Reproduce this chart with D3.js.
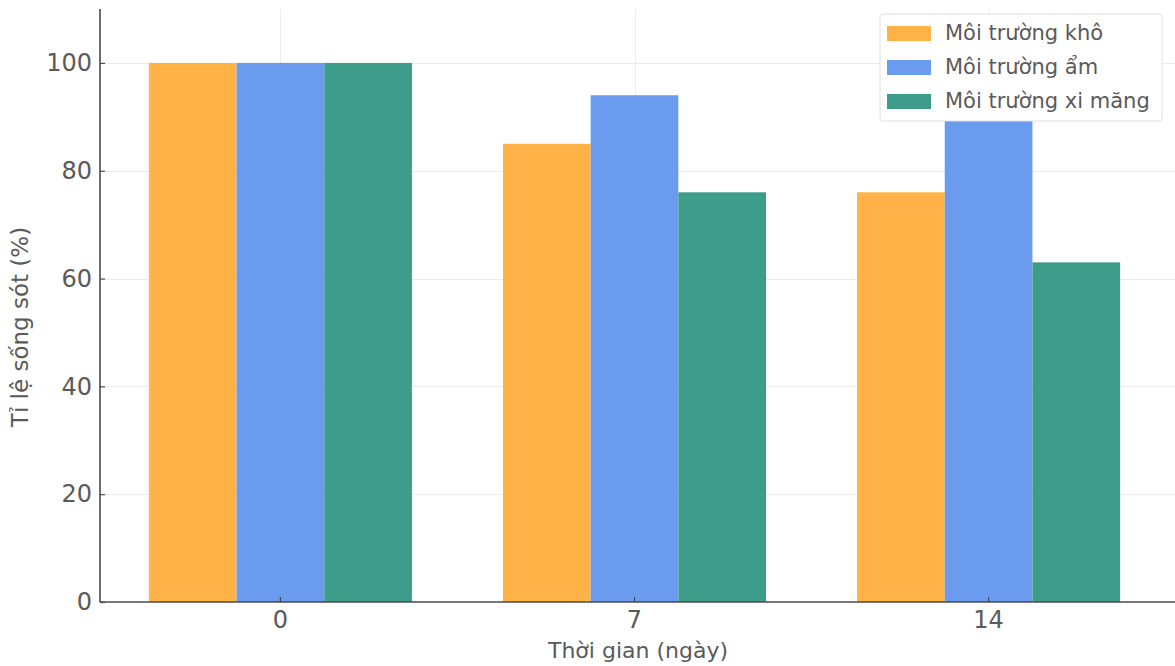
<!DOCTYPE html>
<html>
<head>
<meta charset="utf-8">
<script src="https://cdn.jsdelivr.net/npm/d3@7"></script>
<style>
  html, body { margin: 0; padding: 0; background: #ffffff; }
  svg { display: block; }
  text { font-family: "DejaVu Sans", sans-serif; }
</style>
</head>
<body>
<svg id="chart" width="1175" height="666"></svg>
<script>
// Survival rate (%) by day, for three storage environments
const days = ["0", "7", "14"];
const seriesNames = ["Môi trường khô", "Môi trường ẩm", "Môi trường xi măng"];
const dryValues = [100, 85, 76];
const humidValues = [100, 94, 90];
const cementValues = [100, 76, 63];
const seriesColors = ["#FFB245", "#6A9BEF", "#3E9C8B"];
const yTicks = [0, 20, 40, 60, 80, 100];

const seriesValues = [dryValues, humidValues, cementValues];

const svg = d3.select("#chart");
const width = 1175, height = 666;
const margin = { left: 100, top: 9, bottom: 64 };
const plotBottom = height - margin.bottom;

const x = d3.scaleBand()
  .domain(days)
  .range([margin.left, 1169])
  .paddingInner(0.257)
  .paddingOuter(0.138);

const xInner = d3.scaleBand()
  .domain(d3.range(seriesNames.length))
  .range([0, x.bandwidth()]);

const y = d3.scaleLinear()
  .domain([0, 110])
  .range([plotBottom, margin.top]);

// light grid
const grid = svg.append("g").attr("stroke", "#ececec").attr("stroke-width", 1);
grid.selectAll("line.h").data(yTicks.slice(1)).join("line")
  .attr("class", "h")
  .attr("x1", margin.left).attr("x2", width)
  .attr("y1", d => Math.round(y(d)) + 0.5).attr("y2", d => Math.round(y(d)) + 0.5);
grid.selectAll("line.v").data(days).join("line")
  .attr("class", "v")
  .attr("x1", d => Math.round(x(d) + x.bandwidth() / 2) + 0.5)
  .attr("x2", d => Math.round(x(d) + x.bandwidth() / 2) + 0.5)
  .attr("y1", margin.top).attr("y2", plotBottom);

// grouped bars
const groups = svg.append("g").selectAll("g").data(days).join("g")
  .attr("transform", d => `translate(${x(d)},0)`);
groups.selectAll("rect")
  .data((d, i) => seriesValues.map((vals, s) => ({ s, v: vals[i] })))
  .join("rect")
  .attr("x", d => xInner(d.s))
  .attr("width", xInner.bandwidth())
  .attr("y", d => y(d.v))
  .attr("height", d => y(0) - y(d.v))
  .attr("fill", d => seriesColors[d.s]);

// axes
const yAxis = d3.axisLeft(y).tickValues(yTicks).tickSizeInner(-5).tickSizeOuter(0).tickPadding(8);
const gy = svg.append("g").attr("transform", `translate(${margin.left},0)`).call(yAxis);
const xAxis = d3.axisBottom(x).tickSizeInner(-5).tickSizeOuter(0).tickPadding(9);
const gx = svg.append("g").attr("transform", `translate(0,${plotBottom})`).call(xAxis);

[gx, gy].forEach(g => {
  g.select(".domain").attr("stroke", "#4a4a4a").attr("stroke-width", 1.6);
  g.selectAll(".tick line").attr("stroke", "#4a4a4a").attr("stroke-width", 1.2);
  g.selectAll(".tick text")
    .attr("font-family", "DejaVu Sans, sans-serif")
    .attr("font-size", 24)
    .attr("fill", "#5a5a5a");
});
gy.select(".domain").attr("d", `M0,${margin.top}V${plotBottom}`);
gx.select(".domain").attr("d", `M${margin.left},0H${width}`);

// axis titles
svg.append("text")
  .attr("x", 638)
  .attr("y", 658)
  .attr("text-anchor", "middle")
  .attr("font-size", 22)
  .attr("fill", "#5a5a5a")
  .text("Thời gian (ngày)");

svg.append("text")
  .attr("transform", `translate(28,327) rotate(-90)`)
  .attr("text-anchor", "middle")
  .attr("font-size", 23)
  .attr("fill", "#5a5a5a")
  .text("Tỉ lệ sống sót (%)");

// legend
const legend = svg.append("g").attr("transform", "translate(880,14)");
legend.append("rect")
  .attr("width", 282).attr("height", 107)
  .attr("rx", 3)
  .attr("fill", "#ffffff")
  .attr("stroke", "#e0e0e0");
const item = legend.selectAll("g.item").data(seriesNames).join("g")
  .attr("class", "item")
  .attr("transform", (d, i) => `translate(0,${19 + i * 34})`);
item.append("rect")
  .attr("x", 7).attr("y", -7)
  .attr("width", 44).attr("height", 15)
  .attr("fill", (d, i) => seriesColors[i]);
item.append("text")
  .attr("x", 65).attr("y", 7)
  .attr("font-size", 21)
  .attr("fill", "#5a5a5a")
  .text(d => d);
</script>
</body>
</html>
